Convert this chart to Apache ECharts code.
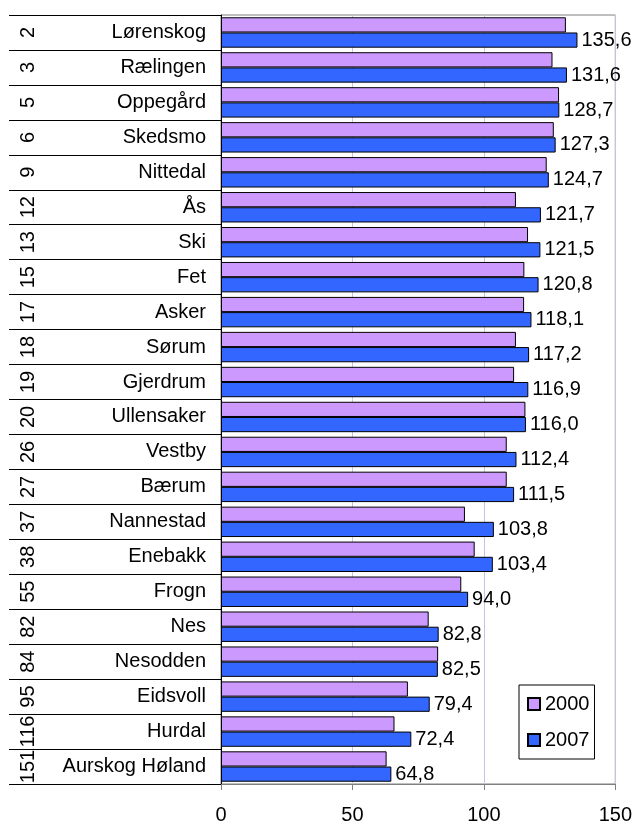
<!DOCTYPE html>
<html>
<head>
<meta charset="utf-8">
<script src="https://cdn.jsdelivr.net/npm/echarts@6/dist/echarts.min.js"></script>
<style>
html,body{margin:0;padding:0;background:#fff;}
#c{width:635px;height:825px;}
</style>
</head>
<body>
<div id="c"></div>
<script>
const names = ['Lørenskog','Rælingen','Oppegård','Skedsmo','Nittedal','Ås','Ski','Fet','Asker','Sørum','Gjerdrum','Ullensaker','Vestby','Bærum','Nannestad','Enebakk','Frogn','Nes','Nesodden','Eidsvoll','Hurdal','Aurskog Høland'];
const ranks = ['2','3','5','6','9','12','13','15','17','18','19','20','26','27','37','38','55','82','84','95','116','151'];
const v2000 = [131.2,126.1,128.6,126.6,123.9,112.2,116.8,115.4,115.3,112.2,111.5,115.8,108.7,108.7,92.8,96.5,91.4,79.0,82.6,71.1,66.0,63.0];
const v2007 = [135.6,131.6,128.7,127.3,124.7,121.7,121.5,120.8,118.1,117.2,116.9,116.0,112.4,111.5,103.8,103.4,94.0,82.8,82.5,79.4,72.4,64.8];
const seriesNames = ['2000','2007'];
const xTicks = {min:0, max:150, interval:50};

const FONT = 'Liberation Sans, Arial, sans-serif';
const FS = 20;
const chart = echarts.init(document.getElementById('c'), null, {renderer:'canvas'});
chart.setOption({
  animation:false,
  backgroundColor:'#fff',
  textStyle:{fontFamily:FONT},
  grid:{left:221, right:18, top:15, bottom:39, show:true, borderColor:'#808080', borderWidth:1, backgroundColor:'transparent'},
  legend:{
    data:seriesNames, orient:'vertical', left:519, top:685,
    itemWidth:12, itemHeight:12, itemGap:16, icon:'rect',
    padding:[9,5,9,8], borderColor:'#000', borderWidth:1, backgroundColor:'#fff',
    textStyle:{fontSize:FS, color:'#000', fontFamily:FONT}
  },
  xAxis:{
    type:'value', min:xTicks.min, max:xTicks.max, interval:xTicks.interval,
    axisLine:{show:true, lineStyle:{color:'#808080', width:1}},
    axisTick:{show:true, length:6, lineStyle:{color:'#808080'}},
    axisLabel:{fontSize:FS, color:'#000', margin:21, fontFamily:FONT},
    splitLine:{show:true, lineStyle:{color:'#c4c4e4', width:1}}
  },
  yAxis:[{
    type:'category', data:names, inverse:true,
    axisLine:{show:true, lineStyle:{color:'#000', width:1}},
    axisTick:{show:true, length:212, lineStyle:{color:'#000', width:1}},
    axisLabel:{fontSize:FS, color:'#000', margin:15, interval:0, fontFamily:FONT},
    splitLine:{show:false}
  },{
    type:'category', data:ranks, inverse:true, position:'left',
    axisLine:{show:false}, axisTick:{show:false},
    axisLabel:{fontSize:FS, color:'#000', margin:183, rotate:90, interval:0, fontFamily:FONT},
    splitLine:{show:false}
  }],
  series:[{
    name:seriesNames[0], type:'bar', data:v2000, yAxisIndex:0,
    barGap:'0%', barCategoryGap:'13%',
    itemStyle:{color:'#CC99FF', borderColor:'#000', borderWidth:1}
  },{
    name:seriesNames[1], type:'bar', data:v2007, yAxisIndex:0,
    barGap:'0%', barCategoryGap:'13%',
    itemStyle:{color:'#3366FF', borderColor:'#000', borderWidth:1},
    label:{show:true, position:'right', distance:4, fontSize:FS, color:'#000', fontFamily:FONT,
      formatter:p=>p.value.toFixed(1).replace('.', ',')}
  }]
});
</script>
</body>
</html>
